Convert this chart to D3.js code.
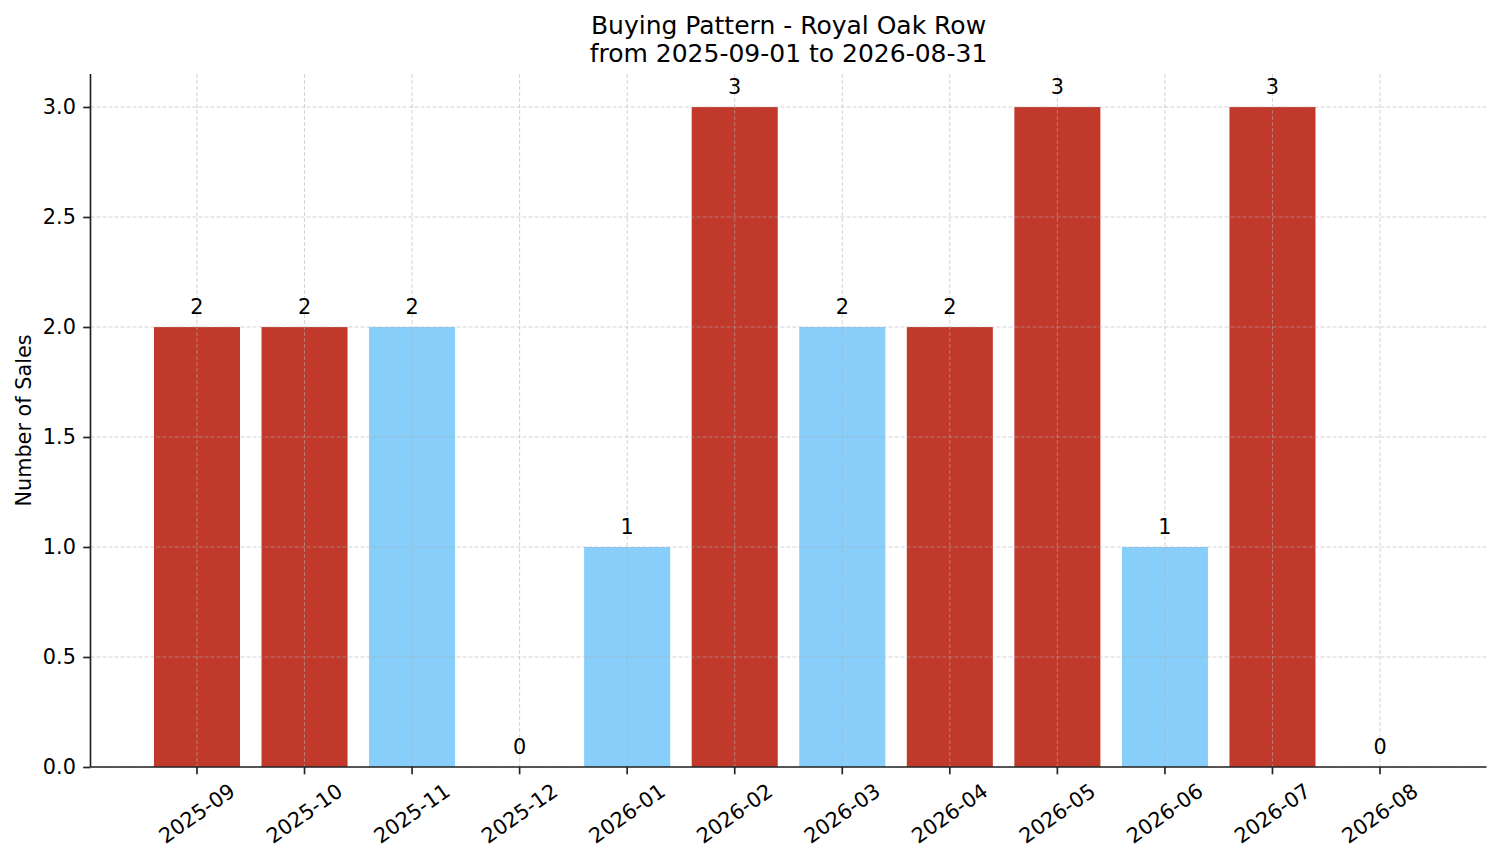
<!DOCTYPE html>
<html>
<head>
<meta charset="utf-8">
<script src="https://cdn.jsdelivr.net/npm/d3@7"></script>
<style>
html,body{margin:0;padding:0;background:#fff;}
svg{display:block;font-family:"DejaVu Sans",sans-serif;}
</style>
</head>
<body>
<svg id="chart" width="1501" height="863"></svg>
<script>
const months = ["2025-09","2025-10","2025-11","2025-12","2026-01","2026-02","2026-03","2026-04","2026-05","2026-06","2026-07","2026-08"];
const sales = [2,2,2,0,1,3,2,2,3,1,3,0];
const barGroup = ["red","red","blue","blue","blue","red","blue","red","red","blue","red","red"];
const yTicks = [0,0.5,1,1.5,2,2.5,3];
const titleLines = ["Buying Pattern - Royal Oak Row","from 2025-09-01 to 2026-08-31"];
const yLabel = "Number of Sales";

const W = 1501, H = 863;
const m = {left:90.5, right:14.5, top:74, bottom:96};
const svg = d3.select("#chart");
const iw = W - m.left - m.right, ih = H - m.top - m.bottom;
const g = svg.append("g").attr("transform",`translate(${m.left},${m.top})`);

const n = months.length;
// matplotlib style: bars at integer positions, width 0.8, 5% margins
const xLin = d3.scaleLinear().domain([-0.4 - 0.59, n - 1 + 0.4 + 0.59]).range([0, iw]);
const ymax = d3.max(sales);
const y = d3.scaleLinear().domain([0, ymax * 1.05]).range([ih, 0]);
const color = d3.scaleOrdinal().domain(["red","blue"]).range(["#c0392b","#87cefa"]);

// bars
g.selectAll("rect.bar").data(months).enter().append("rect")
  .attr("class","bar")
  .attr("x",(d,i)=>xLin(i-0.4))
  .attr("width",(d,i)=>xLin(i+0.4)-xLin(i-0.4))
  .attr("y",(d,i)=>y(sales[i]))
  .attr("height",(d,i)=>y(0)-y(sales[i]))
  .attr("fill",(d,i)=>color(barGroup[i]));

// grid (on top of bars)
const grid = g.append("g").attr("stroke","#b0b0b0").attr("stroke-opacity",0.55)
  .attr("stroke-width",1).attr("stroke-dasharray","4,2");
grid.selectAll("line.h").data(yTicks).enter().append("line")
  .attr("x1",0).attr("x2",iw).attr("y1",d=>y(d)).attr("y2",d=>y(d));
grid.selectAll("line.v").data(months).enter().append("line")
  .attr("y1",0).attr("y2",ih).attr("x1",(d,i)=>xLin(i)).attr("x2",(d,i)=>xLin(i));

// value labels
g.selectAll("text.val").data(months).enter().append("text")
  .attr("x",(d,i)=>xLin(i))
  .attr("y",(d,i)=>y(sales[i]) - 13)
  .attr("text-anchor","middle")
  .attr("font-size","20.8px")
  .attr("fill","#000")
  .text((d,i)=>sales[i]);

// y axis
const yAxis = d3.axisLeft(y).tickValues(yTicks).tickFormat(d3.format(".1f")).tickSize(7.3).tickPadding(7.3);
const ya = g.append("g").call(yAxis);
ya.select(".domain").attr("stroke","#222").attr("stroke-width",1.67).attr("d",`M0,${ih}V0`);
ya.selectAll(".tick line").attr("stroke","#222").attr("stroke-width",1.67);
ya.selectAll(".tick text").attr("font-size","20.8px").attr("fill","#000").attr("font-family","DejaVu Sans");

// x axis
const xa = g.append("g").attr("transform",`translate(0,${ih})`);
xa.append("line").attr("x1",0).attr("x2",iw).attr("stroke","#222").attr("stroke-width",1.67);
const theta = 35 * Math.PI/180;
const xt = xa.selectAll("g.xtick").data(months).enter().append("g").attr("class","xtick");
xt.append("line").attr("x1",(d,i)=>xLin(i)).attr("x2",(d,i)=>xLin(i)).attr("y1",0).attr("y2",7.3)
  .attr("stroke","#222").attr("stroke-width",1.67);
xt.append("text")
  .attr("font-size","20.8px").attr("fill","#000")
  .attr("text-anchor","middle").attr("dominant-baseline","central")
  .text(d=>d)
  .each(function(d,i){
    const w = this.getComputedTextLength();
    const h = 17;
    const bh = w*Math.sin(theta) + h*Math.cos(theta);
    const cy = 7.3 + 7.3 + bh/2;
    d3.select(this).attr("transform",`translate(${xLin(i)},${cy}) rotate(-35)`);
  });

// title
svg.selectAll("text.title").data(titleLines).enter().append("text")
  .attr("x", m.left + iw/2)
  .attr("y",(d,i)=>34.3 + i*28)
  .attr("text-anchor","middle")
  .attr("font-size","25px")
  .attr("fill","#000")
  .text(d=>d);

// y label
svg.append("text")
  .attr("transform",`translate(31,${m.top+ih/2}) rotate(-90)`)
  .attr("text-anchor","middle")
  .attr("font-size","20.8px")
  .attr("fill","#000")
  .text(yLabel);
</script>
</body>
</html>
